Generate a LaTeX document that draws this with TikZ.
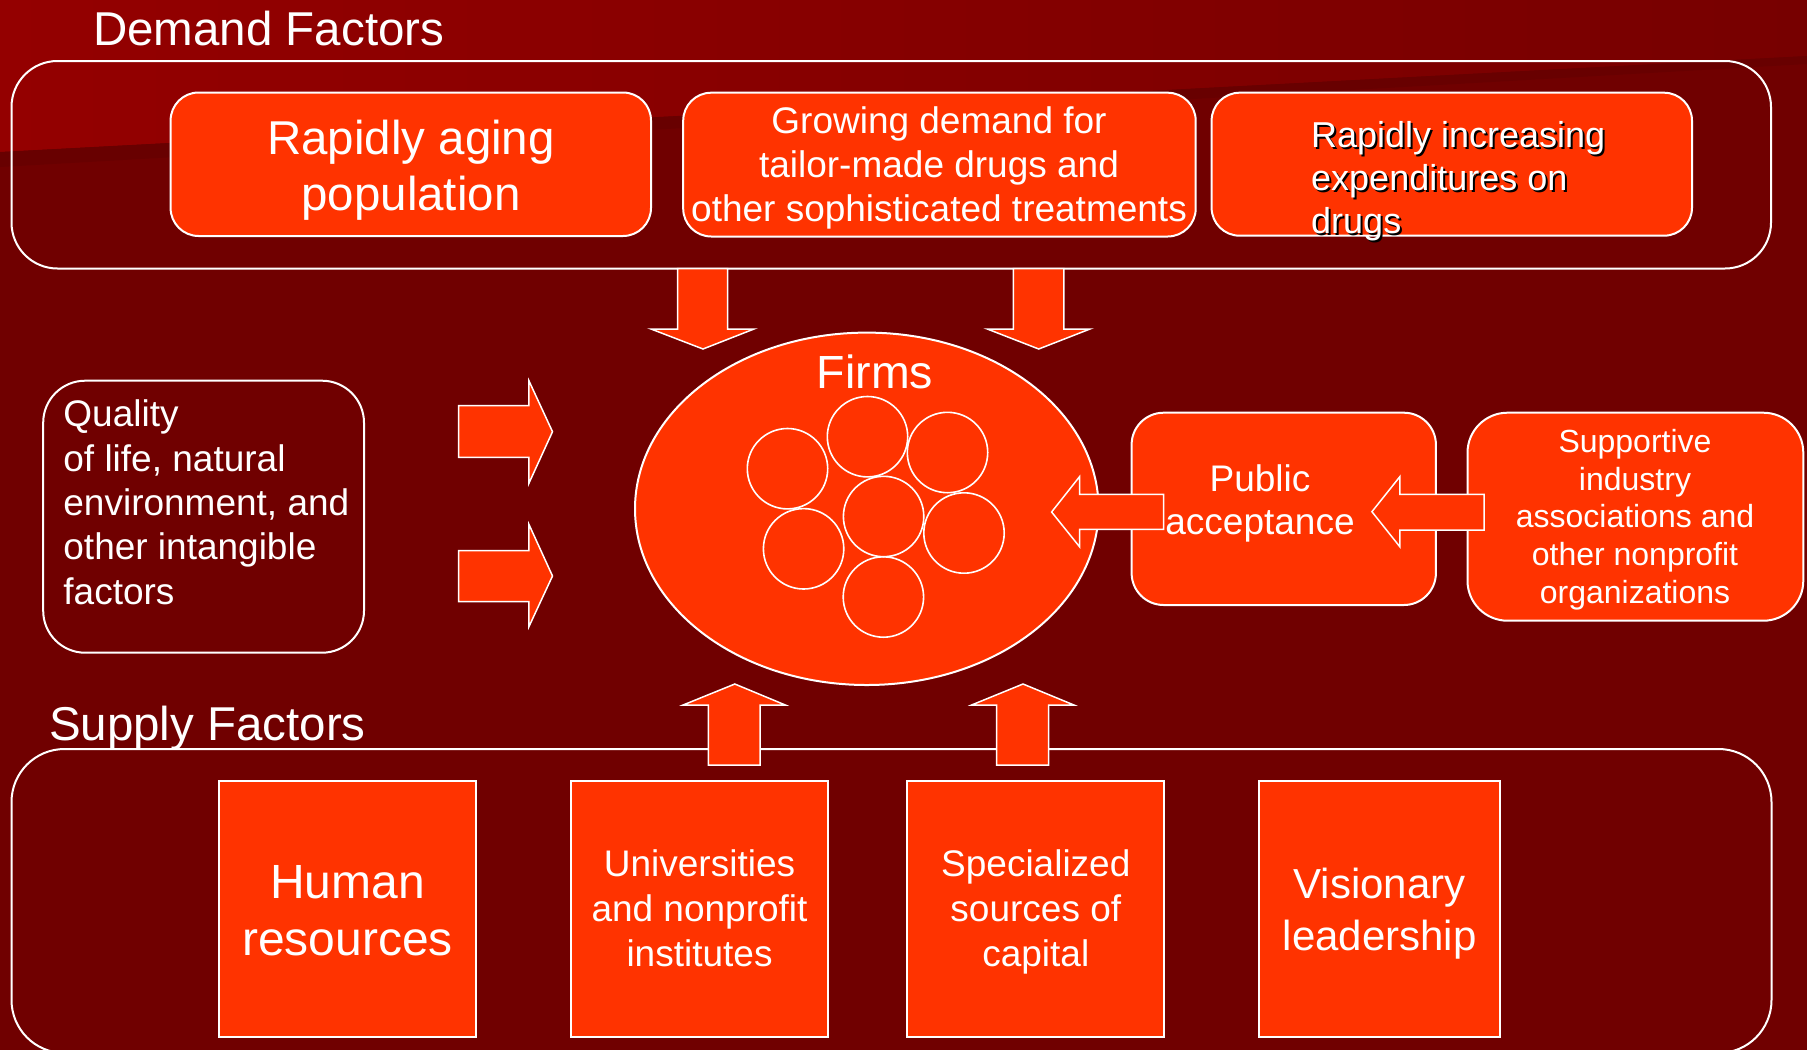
\documentclass[tikz,border=0pt]{standalone}
\usepackage{fontspec}
\setmainfont{Liberation Sans}
\usetikzlibrary{shapes.geometric}
\definecolor{bg}{HTML}{700000}
\definecolor{bgtop}{HTML}{940000}
\definecolor{bgtopr}{HTML}{770000}
\definecolor{bgband}{HTML}{680000}
\definecolor{orng}{HTML}{FF3300}
\newcommand\mlc[1]{\begin{tabular}[t]{@{}c@{}}#1\end{tabular}}
\newcommand\mll[1]{\begin{tabular}[t]{@{}l@{}}#1\end{tabular}}
\begin{document}
\begin{tikzpicture}[x=1pt,y=-1pt,
  frame/.style={draw=white, line width=2pt, rounded corners=#1},
  rbox/.style={draw=white, line width=2pt, fill=orng, rounded corners=#1, inner sep=0pt},
  sbox/.style={draw=white, line width=2pt, fill=orng, inner sep=0pt},
  firm/.style={circle, draw=white, line width=1.6pt, minimum size=80.4pt, inner sep=0pt},
  barrow/.style={fill=orng, draw=white, line width=1.5pt, line join=miter},
  txt/.style={anchor=base, inner sep=0pt, text=white},
  txtl/.style={anchor=base west, inner sep=0pt, text=white}]
\useasboundingbox (0,0) rectangle (1807,1050);
% background
\fill[bg] (0,0) rectangle (1807,1050);
\shade[left color=bgtop, right color=bgtopr] (0,0) -- (1807,0) -- (1807,56) -- (0,152) -- cycle;
\fill[bgband] (0,152) -- (1807,56) -- (1807,64) -- (0,167) -- cycle;

% demand factors
\node[txtl, font=\fontsize{47.5}{57}\selectfont] (tdem) at (93,45) {Demand Factors};
\node[frame=46pt, minimum width=1759.5pt, minimum height=207.5pt, inner sep=0pt] (demand) at (891.25,164.75) {};
\node[rbox=28pt, minimum width=480.4pt, minimum height=143.5pt] (b1) at (410.8,164.25) {};
\node[rbox=28pt, minimum width=512.5pt, minimum height=143.8pt] (b2) at (939.45,164.6) {};
\node[rbox=28pt, minimum width=480.4pt, minimum height=143pt] (b3) at (1451.8,164.2) {};

% supply factors frame
\node[txtl, font=\fontsize{47.5}{57}\selectfont] (tsup) at (48.8,740.7) {Supply Factors};
\node[frame=53pt, minimum width=1760pt, minimum height=304pt, inner sep=0pt] (supply) at (891.5,901) {};
\node[sbox, minimum width=256.6pt, minimum height=256.6pt] (s1) at (347.6,909) {};
\node[sbox, minimum width=256.6pt, minimum height=256.6pt] (s2) at (699.5,909) {};
\node[sbox, minimum width=257.2pt, minimum height=256.6pt] (s3) at (1035.8,909) {};
\node[sbox, minimum width=241.2pt, minimum height=256.6pt] (s4) at (1379.6,909) {};

% left box
\node[frame=42pt, minimum width=320.8pt, minimum height=272pt, inner sep=0pt] (qual) at (203.6,516.7) {};

% right boxes
\node[rbox=32pt, minimum width=304.3pt, minimum height=192.3pt] (pub) at (1283.75,508.85) {};
\node[rbox=40pt, minimum width=335.8pt, minimum height=208pt] (supp) at (1635.4,516.7) {};

% firms
\node[ellipse, draw=white, line width=2pt, fill=orng, minimum width=463.6pt, minimum height=352.4pt, inner sep=0pt] (firms) at (866.8,508.8) {};
\node[firm] (c1) at (787.5,468.7) {};
\node[firm] (c2) at (867.5,436.7) {};
\node[firm] (c3) at (947.5,452.5) {};
\node[firm] (c4) at (883.6,516.5) {};
\node[firm] (c5) at (803.6,548.8) {};
\node[firm] (c6) at (964,533) {};
\node[firm] (c7) at (883.4,597) {};

% down arrows
\draw[barrow] (677.7,268.5) -- (727.7,268.5) -- (727.7,329) -- (754,329) -- (703,349) -- (651,329) -- (677.7,329) -- cycle;
\draw[barrow] (1013.3,268.5) -- (1063.8,268.5) -- (1063.8,329) -- (1090,329) -- (1038.7,349) -- (987.3,329) -- (1013.3,329) -- cycle;
% up arrows
\draw[barrow] (708.4,765) -- (760,765) -- (760,705) -- (785.3,705) -- (734.8,684) -- (683.1,705) -- (708.4,705) -- cycle;
\draw[barrow] (996.5,765) -- (1048.5,765) -- (1048.5,705) -- (1073.9,705) -- (1023,684) -- (971.6,705) -- (996.5,705) -- cycle;
% right arrows
\draw[barrow] (458.6,405.7) -- (528.9,405.7) -- (528.9,380.7) -- (552.5,431.7) -- (528.9,483.3) -- (528.9,457.3) -- (458.6,457.3) -- cycle;
\draw[barrow] (458.6,550.7) -- (528.9,550.7) -- (528.9,524.3) -- (552.5,576) -- (528.9,626.7) -- (528.9,601.7) -- (458.6,601.7) -- cycle;
% left arrows
\draw[barrow] (1163.7,494.3) -- (1079.5,494.3) -- (1079.5,476.7) -- (1051.6,512) -- (1079.5,546.7) -- (1079.5,529.3) -- (1163.7,529.3) -- cycle;
\draw[barrow] (1484.1,494.3) -- (1399.8,494.3) -- (1399.8,476.7) -- (1371.9,511.7) -- (1399.8,546.7) -- (1399.8,530) -- (1484.1,530) -- cycle;

% texts
\node[txt, font=\fontsize{47.5}{56.7}\selectfont] (t1) at (411,154) {\mlc{Rapidly aging\\population}};
\node[txt, font=\fontsize{37}{44.2}\selectfont] (t2) at (939,133.3) {\mlc{Growing demand for\\tailor-made drugs and\\other sophisticated treatments}};
\node[txtl, text=black, font=\fontsize{36}{43.3}\selectfont] (t3s) at (1313,149.3) {\mll{Rapidly increasing\\expenditures on\\drugs}};
\node[txtl, font=\fontsize{36}{43.3}\selectfont] (t3) at (1311,147.3) {\mll{Rapidly increasing\\expenditures on\\drugs}};
\node[txt, font=\fontsize{46.5}{56}\selectfont] (tfirms) at (875,388.3) {Firms};
\node[txtl, font=\fontsize{37}{44.4}\selectfont] (tq) at (63.2,426.7) {\mll{Quality\\of life, natural\\environment, and\\other intangible\\factors}};
\node[txt, font=\fontsize{37}{43}\selectfont] (tpub) at (1260,491) {\mlc{Public\\acceptance}};
\node[txt, font=\fontsize{32}{37.6}\selectfont] (tsupp) at (1635,452.7) {\mlc{Supportive\\industry\\associations and\\other nonprofit\\organizations}};
\node[txt, font=\fontsize{48}{56.7}\selectfont] (ts1) at (347.6,898.3) {\mlc{Human\\resources}};
\node[txt, font=\fontsize{37}{45}\selectfont] (ts2) at (699.5,876.7) {\mlc{Universities\\and nonprofit\\institutes}};
\node[txt, font=\fontsize{37}{44.7}\selectfont] (ts3) at (1035.8,876.7) {\mlc{Specialized\\sources of\\capital}};
\node[txt, font=\fontsize{42}{51.7}\selectfont] (ts4) at (1379.6,898.3) {\mlc{Visionary\\leadership}};
\end{tikzpicture}
\end{document}
